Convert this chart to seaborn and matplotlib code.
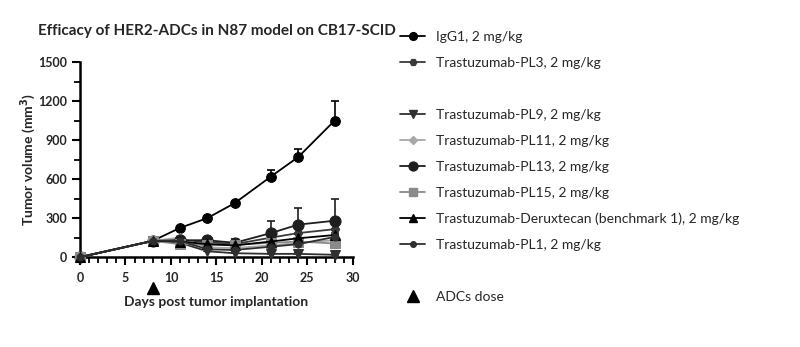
import numpy as np
import pandas as pd
import matplotlib
matplotlib.use("Agg")
import matplotlib.pyplot as plt
import matplotlib.transforms as mtransforms
from matplotlib.lines import Line2D
from matplotlib.ticker import MultipleLocator
import seaborn as sns

sns.set_theme(style="ticks")
plt.rcParams['font.family'] = ['Lato', 'DejaVu Sans']

days = [0, 8, 11, 14, 17, 21, 24, 28]
groups = ["IgG1, 2 mg/kg", "Trastuzumab-PL3, 2 mg/kg", "Trastuzumab-PL9, 2 mg/kg",
          "Trastuzumab-PL11, 2 mg/kg", "Trastuzumab-PL13, 2 mg/kg",
          "Trastuzumab-PL15, 2 mg/kg",
          "Trastuzumab-Deruxtecan (benchmark 1), 2 mg/kg", "Trastuzumab-PL1, 2 mg/kg"]
igg1 = [0, 125, 225, 300, 415, 620, 770, 1050]
igg1_err = [0, 10, 12, 12, 12, 50, 60, 150]
pl3 = [0, 125, 130, 115, 100, 150, 185, 215]
pl3_err = [0, 10, 15, 25, 25, 30, 40, 60]
pl9 = [0, 125, 110, 45, 30, 25, 25, 18]
pl9_err = [0, 10, 10, 10, 10, 8, 8, 6]
pl11 = [0, 125, 150, 75, 70, 90, 110, 130]
pl11_err = [0, 10, 15, 15, 15, 20, 25, 30]
pl13 = [0, 125, 130, 130, 110, 185, 250, 280]
pl13_err = [0, 10, 20, 25, 30, 95, 130, 170]
pl15 = [0, 125, 100, 95, 95, 110, 120, 105]
pl15_err = [0, 10, 30, 20, 20, 20, 25, 30]
dxd = [0, 125, 120, 100, 90, 120, 145, 170]
dxd_err = [0, 10, 15, 20, 20, 20, 30, 40]
pl1 = [0, 125, 125, 60, 55, 80, 100, 155]
pl1_err = [0, 10, 15, 15, 15, 20, 25, 30]

values = [igg1, pl3, pl9, pl11, pl13, pl15, dxd, pl1]
errors = [igg1_err, pl3_err, pl9_err, pl11_err, pl13_err, pl15_err, dxd_err, pl1_err]
colors = ["#000000", "#3a3a3a", "#303030", "#a8a8a8", "#1e1e1e", "#8a8a8a", "#000000", "#2e2e2e"]
markers = ["o", "H", "v", "D", "o", "s", "^", "o"]
msizes = [7, 6, 7, 5, 8, 6.5, 7, 5]

rows = []
for g, v in zip(groups, values):
    for d, y in zip(days, v):
        rows.append({"day": d, "vol": y, "group": g})
df = pd.DataFrame(rows)

fig = plt.figure(figsize=(8, 3.47), dpi=100)
ax = fig.add_axes([0.1, 0.259, 0.341, 0.562])

# draw lighter/background series first, IgG1 last
order = [7, 6, 5, 3, 2, 1, 4, 0]
for i in order:
    sub = df[df["group"] == groups[i]]
    ax.errorbar(days, values[i], yerr=[np.zeros(len(days)), errors[i]],
                fmt="none", ecolor=colors[i], elinewidth=1.2, capsize=3, capthick=1.2,
                zorder=2 + i * 0.1)
    sns.lineplot(data=sub, x="day", y="vol", ax=ax, color=colors[i], marker=markers[i],
                 markersize=msizes[i], markeredgecolor=colors[i], linewidth=1.3,
                 legend=False, zorder=3 + i * 0.1, clip_on=False)

ax.set_xlim(0, 30)
ax.set_ylim(0, 1500)
ax.xaxis.set_major_locator(MultipleLocator(5))
ax.xaxis.set_minor_locator(MultipleLocator(1))
ax.yaxis.set_major_locator(MultipleLocator(300))
ax.yaxis.set_minor_locator(MultipleLocator(150))
for s in ["top", "right"]:
    ax.spines[s].set_visible(False)
for s in ["left", "bottom"]:
    ax.spines[s].set_linewidth(1.8)
    ax.spines[s].set_color("black")
ax.tick_params(which="major", length=6, width=1.5, labelsize=9, pad=3, color="black")
ax.tick_params(axis="x", which="major", pad=5)
ax.tick_params(which="minor", length=4, width=1.3, color="black")
for lab in ax.get_xticklabels() + ax.get_yticklabels():
    lab.set_fontweight("bold")

ax.set_xlabel("Days post tumor implantation", fontsize=10, fontweight="bold", labelpad=8)
ax.set_ylabel("Tumor volume (mm$^{\\mathbf{3}}$)", fontsize=10, fontweight="bold", labelpad=0)
fig.text(0.047, 0.91, "Efficacy of HER2-ADCs in N87 model on CB17-SCID",
         fontsize=11, fontweight="bold", ha="left", va="center")

# dose marker
trans = mtransforms.blended_transform_factory(ax.transData, ax.transAxes)
ax.plot([8], [-0.16], marker="^", color="black", markersize=9, transform=trans, clip_on=False)

# legend
handles = []
labels = []
for i in range(8):
    h = Line2D([0], [0], color=colors[i], marker=markers[i], markersize=msizes[i] * 0.8,
               linewidth=1.3, markeredgecolor=colors[i])
    handles.append(h)
    labels.append(groups[i])
    if i == 1:
        handles.append(Line2D([0], [0], color="none"))
        labels.append(" ")
handles.append(Line2D([0], [0], color="none"))
labels.append(" ")
handles.append(Line2D([0], [0], color="black", marker="^", linestyle="none", markersize=9))
labels.append("ADCs dose")
leg = fig.legend(handles, labels, loc="upper left", bbox_to_anchor=(0.5, 0.91),
                 frameon=False, fontsize=10, labelspacing=1.0, handlelength=1.8,
                 handletextpad=0.8, borderpad=0, borderaxespad=0)

fig.savefig("out.png", dpi=100)
